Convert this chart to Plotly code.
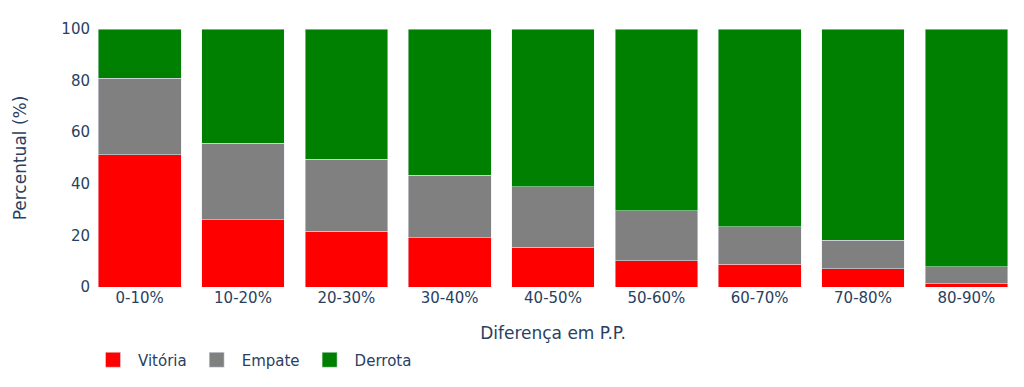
import plotly.graph_objects as go

categorias = ["0-10%", "10-20%", "20-30%", "30-40%", "40-50%", "50-60%", "60-70%", "70-80%", "80-90%"]
vitoria = [51.2, 26.0, 21.7, 19.0, 15.5, 10.1, 8.9, 7.0, 1.2]
empate = [29.8, 29.8, 27.9, 24.4, 23.3, 19.4, 14.4, 11.2, 6.6]
derrota = [19.0, 44.2, 50.4, 56.6, 61.2, 70.5, 76.7, 81.8, 92.2]

series = [("Vitória", vitoria, "red"), ("Empate", empate, "gray"), ("Derrota", derrota, "green")]

fig = go.Figure()
for nome, valores, cor in series:
    fig.add_trace(go.Bar(x=categorias, y=valores, name=nome, marker_color=cor,
                         legendgroup=nome, showlegend=False))
for nome, valores, cor in series:
    fig.add_trace(go.Scatter(x=[None], y=[None], mode="markers", name=nome, legendgroup=nome,
                             marker=dict(symbol="square", size=15, color=cor,
                                         line=dict(color="#E5ECF6", width=0.5))))

fig.update_layout(
    template="plotly",
    barmode="stack",
    width=1016,
    height=379,
    margin=dict(l=80, r=6, t=21, b=100),
    paper_bgcolor="white",
    plot_bgcolor="white",
    font=dict(family="DejaVu Sans", size=15, color="#2a3f5f"),
    xaxis=dict(title=dict(text="Diferença em P.P.", font=dict(size=17), standoff=21),
               showgrid=False, automargin=False),
    yaxis=dict(title=dict(text="Percentual (%)", font=dict(size=17), standoff=30),
               range=[0, 100], showgrid=False, zeroline=False, automargin=False,
               ticklabelstandoff=-3),
    legend=dict(orientation="h", x=0, xanchor="left", y=-0.283, yanchor="middle",
                traceorder="normal", itemwidth=40, font=dict(size=15)),
)
fig.write_html("out.html")
